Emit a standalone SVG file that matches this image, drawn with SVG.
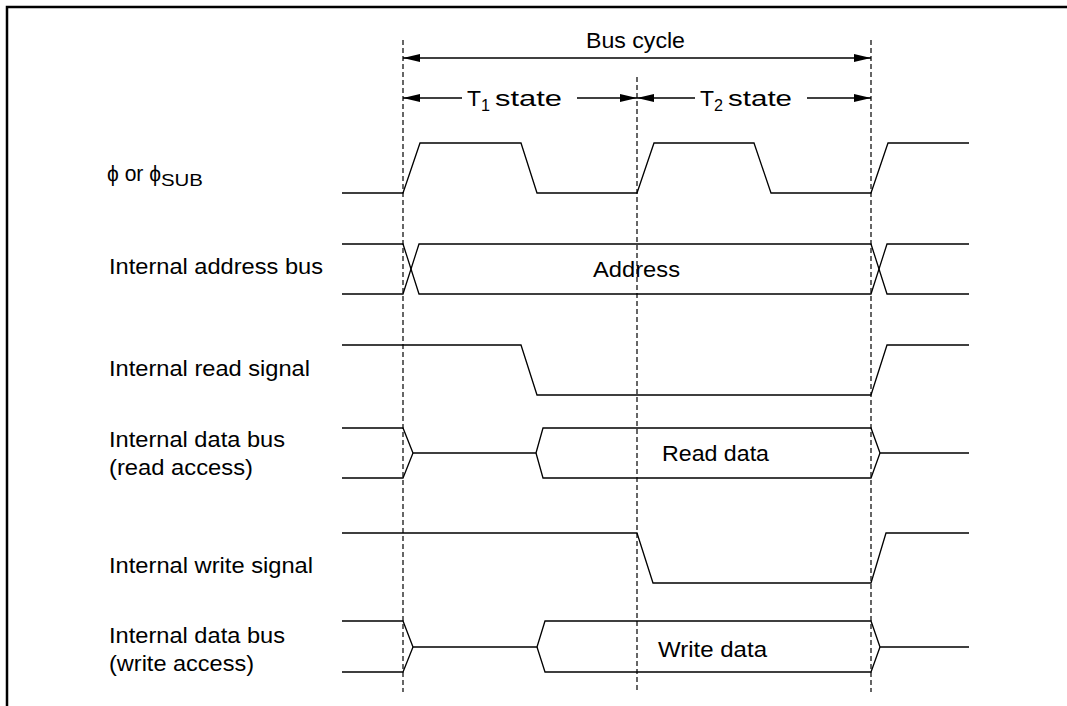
<svg xmlns="http://www.w3.org/2000/svg" width="1067" height="706" viewBox="0 0 1067 706">
<style>
.t{font-family:"Liberation Sans",Arial,sans-serif;font-size:22.5px;fill:#000}
.s{font-family:"Liberation Sans",Arial,sans-serif;font-size:16px;fill:#000}
.w{fill:none;stroke:#000;stroke-width:1.3;stroke-linejoin:miter}
.d{fill:none;stroke:#000;stroke-width:1.2;stroke-dasharray:5 3}
.a{fill:none;stroke:#000;stroke-width:1.3}
</style>
<defs>
<marker id="ah" markerUnits="userSpaceOnUse" markerWidth="18" markerHeight="9" refX="17" refY="4.5" orient="auto-start-reverse">
<path d="M0,0.5 L17,4.5 L0,8.5 z" fill="#000"/>
</marker>
</defs>
<rect width="1067" height="706" fill="#fff"/>
<path d="M7,706 L7,7 L1067,7" fill="none" stroke="#000" stroke-width="2.5"/>

<g id="connectors">
<line class="d" x1="403" y1="40" x2="403" y2="692"/>
<line class="d" x1="637" y1="77" x2="637" y2="692"/>
<line class="d" x1="871" y1="40" x2="871" y2="692"/>
<line class="a" x1="403" y1="58" x2="871" y2="58" marker-start="url(#ah)" marker-end="url(#ah)"/>
<line class="a" x1="462" y1="98" x2="403" y2="98" marker-end="url(#ah)"/>
<line class="a" x1="577" y1="98" x2="637" y2="98" marker-end="url(#ah)"/>
<line class="a" x1="695" y1="98" x2="637" y2="98" marker-end="url(#ah)"/>
<line class="a" x1="807" y1="98" x2="871" y2="98" marker-end="url(#ah)"/>
</g>

<g id="timing-labels">
<text class="t" x="586" y="48" textLength="99" lengthAdjust="spacingAndGlyphs">Bus cycle</text>
<text class="t" x="467" y="106" textLength="14" lengthAdjust="spacingAndGlyphs">T</text>
<text class="s" x="481" y="111" textLength="9" lengthAdjust="spacingAndGlyphs">1</text>
<text class="t" x="495" y="106" textLength="67" lengthAdjust="spacingAndGlyphs">state</text>
<text class="t" x="700" y="106" textLength="14" lengthAdjust="spacingAndGlyphs">T</text>
<text class="s" x="714" y="111" textLength="9" lengthAdjust="spacingAndGlyphs">2</text>
<text class="t" x="728" y="106" textLength="64" lengthAdjust="spacingAndGlyphs">state</text>
</g>

<g id="clock">
<text class="t" x="107" y="181" textLength="54" lengthAdjust="spacingAndGlyphs">ϕ or ϕ</text>
<text class="s" x="161" y="186" textLength="42" lengthAdjust="spacingAndGlyphs">SUB</text>
<path class="w" d="M342,193 L403,193 L420,143 L521,143 L537,193 L637,193 L654,143 L754,143 L771,193 L871,193 L888,143 L969,143"/>
</g>

<g id="address-bus">
<text class="t" x="109" y="274" textLength="214" lengthAdjust="spacingAndGlyphs">Internal address bus</text>
<path class="w" d="M342,244 L403,244 L419,294 L871,294 L887,244 L969,244"/>
<path class="w" d="M342,294 L403,294 L419,244 L871,244 L887,294 L969,294"/>
<text class="t" x="593" y="277" textLength="87" lengthAdjust="spacingAndGlyphs">Address</text>
</g>

<g id="read-signal">
<text class="t" x="109" y="376" textLength="201" lengthAdjust="spacingAndGlyphs">Internal read signal</text>
<path class="w" d="M342,345 L521,345 L537,395 L871,395 L887,345 L969,345"/>
</g>

<g id="read-data-bus">
<text class="t" x="109" y="447" textLength="176" lengthAdjust="spacingAndGlyphs">Internal data bus</text>
<text class="t" x="109" y="475" textLength="144" lengthAdjust="spacingAndGlyphs">(read access)</text>
<path class="w" d="M342,428 L403,428 L413,453 L536,453 L543,428 L871,428 L880,453 L969,453"/>
<path class="w" d="M342,478 L403,478 L413,453 M536,453 L543,478 L871,478 L880,453"/>
<text class="t" x="662" y="461" textLength="107" lengthAdjust="spacingAndGlyphs">Read data</text>
</g>

<g id="write-signal">
<text class="t" x="109" y="573" textLength="204" lengthAdjust="spacingAndGlyphs">Internal write signal</text>
<path class="w" d="M342,533 L637,533 L653,583 L871,583 L886,533 L969,533"/>
</g>

<g id="write-data-bus">
<text class="t" x="109" y="643" textLength="176" lengthAdjust="spacingAndGlyphs">Internal data bus</text>
<text class="t" x="109" y="671" textLength="145" lengthAdjust="spacingAndGlyphs">(write access)</text>
<path class="w" d="M342,621 L403,621 L413,647 L537,647 L545,621 L871,621 L880,647 L969,647"/>
<path class="w" d="M342,672 L403,672 L413,647 M537,647 L545,672 L871,672 L880,647"/>
<text class="t" x="658" y="657" textLength="109" lengthAdjust="spacingAndGlyphs">Write data</text>
</g>
</svg>
